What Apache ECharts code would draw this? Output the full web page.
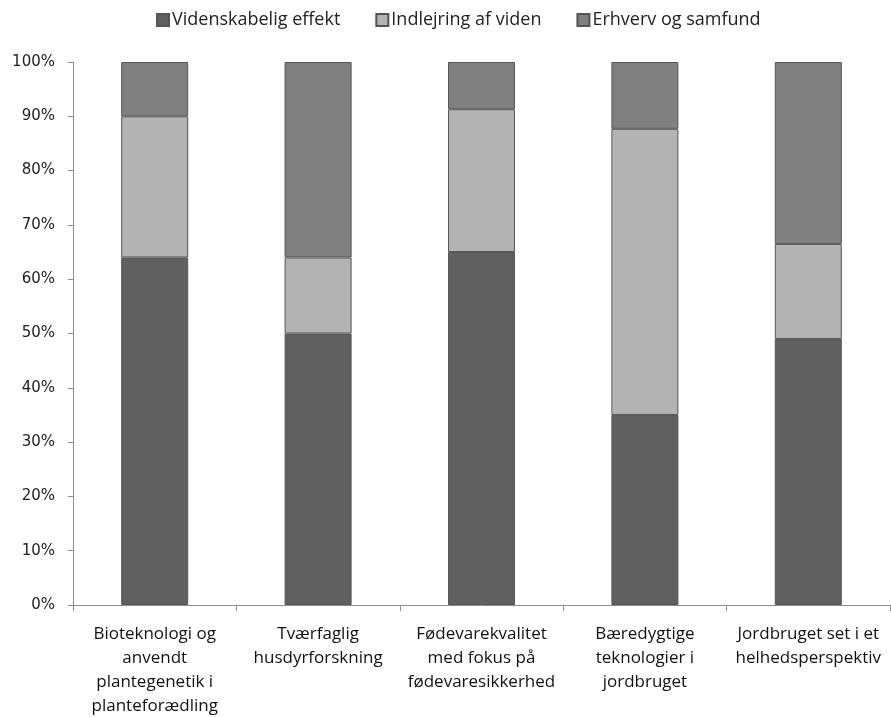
<!DOCTYPE html>
<html><head><meta charset="utf-8">
<script src="https://cdn.jsdelivr.net/npm/echarts@6/dist/echarts.min.js"></script>
<style>html,body{margin:0;padding:0;background:#fff}#c{width:891px;height:717px}</style>
</head><body><div id="c"></div>
<script>
const categories = [
  "Bioteknologi og\nanvendt\nplantegenetik i\nplanteforædling",
  "Tværfaglig\nhusdyrforskning",
  "Fødevarekvalitet\nmed fokus på\nfødevaresikkerhed",
  "Bæredygtige\nteknologier i\njordbruget",
  "Jordbruget set i et\nhelhedsperspektiv"
];
const seriesNames = ["Videnskabelig effekt", "Indlejring af viden", "Erhverv og samfund"];
const videnskabelig = [64, 50, 65, 35, 49];
const indlejring = [26, 14, 26.3, 52.7, 17.5];
const erhverv = [10, 36, 8.7, 12.3, 33.5];
const colors = ["#606060", "#b3b3b3", "#808080"];

const chart = echarts.init(document.getElementById('c'));
const data = [videnskabelig, indlejring, erhverv];
chart.setOption({
  animation: false,
  legend: {
    top: 6, left: 151, itemGap: 35, itemWidth: 12, itemHeight: 12,
    icon: 'rect',
    textStyle: { fontFamily: 'Open Sans', fontSize: 18, color: '#222', padding: [0,0,0,-2] },
    data: seriesNames
  },
  grid: { left: 73, right: 1, top: 62, bottom: 112, containLabel: false, outerBoundsMode: 'none' },
  xAxis: {
    type: 'category', data: categories,
    axisLine: { lineStyle: { color: '#8c8c8c', width: 1 } },
    axisTick: { show: true, length: 6, lineStyle: { color: '#8c8c8c' } },
    axisLabel: { interval: 0, margin: 17, fontFamily: 'Open Sans', fontSize: 17, color: '#111', lineHeight: 24 }
  },
  yAxis: {
    type: 'value', min: 0, max: 100, interval: 10,
    axisLine: { show: true, lineStyle: { color: '#8c8c8c' } },
    axisTick: { show: true, length: 5, lineStyle: { color: '#8c8c8c' } },
    splitLine: { show: false },
    axisLabel: { formatter: '{value}%', fontFamily: 'DejaVu Sans', fontSize: 15, color: '#222', margin: 18 }
  },
  series: seriesNames.map((n, i) => ({
    name: n, type: 'bar', stack: 'all', barWidth: '41%',
    data: data[i],
    itemStyle: { color: colors[i], borderColor: '#555', borderWidth: 1 }
  }))
});
</script></body></html>
